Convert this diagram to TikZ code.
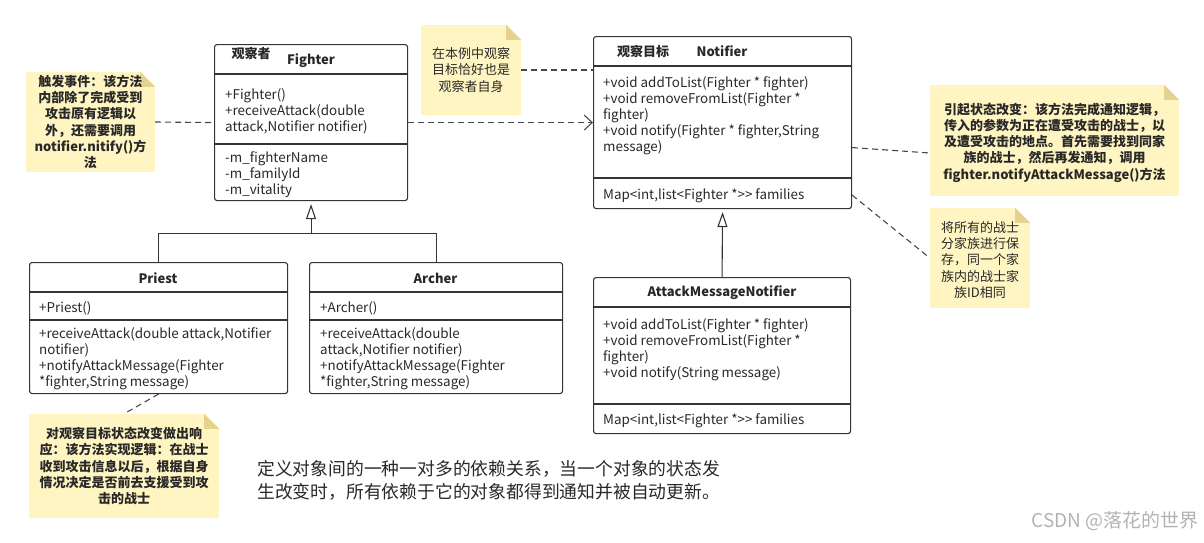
\documentclass[tikz,border=0pt]{standalone}
\usepackage{fontspec}
\usetikzlibrary{arrows.meta}
\newfontfamily\cjk{Noto Sans CJK SC}

\definecolor{mylinegray}{RGB}{50,52,56}
\definecolor{mytextgray}{RGB}{40,40,40}
\definecolor{mynotefill}{RGB}{255,245,194}
\definecolor{mynotefold}{RGB}{230,210,140}

\begin{document}
\begin{tikzpicture}[x=1pt,y=-1pt,
  classbox/.style={draw=mylinegray,line width=1.1pt,rounded corners=2.5pt,anchor=north west,inner sep=0pt},
  member/.style={anchor=north west,inner sep=0pt,align=left,text=mytextgray,font=\cjk\fontsize{13.4}{16.2}\selectfont},
  classtitle/.style={inner sep=0pt,text=mytextgray,font=\cjk\bfseries\fontsize{13}{16}\selectfont},
  notebox/.style={fill=mynotefill,inner sep=0pt},
  notetext/.style={inner sep=0pt,align=center,text=mytextgray,font=\cjk\fontsize{13}{16.3}\selectfont},
  link/.style={draw=mylinegray!90,line width=1.1pt,dash pattern=on 6pt off 4pt},
  inherit/.style={draw=mylinegray,line width=1.1pt,-{Triangle[open,length=15pt,width=10pt]}}]
\def\fold{15}
\useasboundingbox (0,0) rectangle (1204,542);

% classes
\node[classbox,minimum width=193pt,minimum height=156pt] (fighter) at (214,44) {};
\node[classbox,minimum width=258pt,minimum height=172pt] (notifier) at (593,36) {};
\node[classbox,minimum width=258pt,minimum height=131pt] (priest) at (29,262) {};
\node[classbox,minimum width=253pt,minimum height=131pt] (archer) at (309,262) {};
\node[classbox,minimum width=257pt,minimum height=156pt] (amn) at (593,277) {};

% compartments
\foreach \c/\a/\b in {fighter/30/100,notifier/30/142,priest/30/58,archer/30/58,amn/30/127}
  {
   \draw[mylinegray,line width=1.1pt] ([yshift=-\a pt]\c.north west) -- ([yshift=-\a pt]\c.north east);
   \draw[mylinegray,line width=1.1pt] ([yshift=-\b pt]\c.north west) -- ([yshift=-\b pt]\c.north east);
  }

% titles
\node[classtitle] (fighterrole) at (251,53) {观察者};
\node[classtitle] (fightername) at (311,61) {Fighter};
\node[classtitle] (notifierrole) at (643,51) {观察目标};
\node[classtitle] (notifiername) at (722,51) {Notifier};
\node[classtitle] (priestname) at (158,278) {Priest};
\node[classtitle] (archername) at (435.5,278) {Archer};
\node[classtitle] (amnname) at (722,293) {AttackMessageNotifier};

% members
\node[member] (fighterops) at (225,87.5) {\strut+Fighter()\\+receiveAttack(double\\attack,Notifier notifier)};
\node[member] (fighterattrs) at (225,150.5) {\strut-m\_fighterName\\-m\_familyId\\-m\_vitality};
\node[member] (notifierops) at (603,75.5) {\strut+void addToList(Fighter * fighter)\\+void removeFromList(Fighter *\\fighter)\\+void notify(Fighter * fighter,String\\message)};
\node[member] (notifierattrs) at (603,187.5) {\strut Map<int,list<Fighter *>> families};
\node[member] (priestctor) at (39,300.5) {\strut+Priest()};
\node[member] (priestops) at (39,326.5) {\strut+receiveAttack(double attack,Notifier\\notifier)\\+notifyAttackMessage(Fighter\\*fighter,String message)};
\node[member] (archerctor) at (320,300.5) {\strut+Archer()};
\node[member] (archerops) at (320,326.5) {\strut+receiveAttack(double\\attack,Notifier notifier)\\+notifyAttackMessage(Fighter\\*fighter,String message)};
\node[member] (amnops) at (603,317.5) {\strut+void addToList(Fighter * fighter)\\+void removeFromList(Fighter *\\fighter)\\+void notify(String message)};
\node[member] (amnattrs) at (603,412.5) {\strut Map<int,list<Fighter *>> families};

% notes
\node[notebox,minimum width=129pt,minimum height=100pt] (trigger) at (90.5,122) {};
\node[notebox,minimum width=100pt,minimum height=90pt] (selfnote) at (471,70) {};
\node[notebox,minimum width=249pt,minimum height=111pt] (change) at (1054.5,140.5) {};
\node[notebox,minimum width=100pt,minimum height=100pt] (family) at (980,258) {};
\node[notebox,minimum width=190pt,minimum height=104pt] (respond) at (124,466) {};
\foreach \n in {trigger,selfnote,change,family,respond}
  {
   \fill[white] (\n.north east) -- ++(-\fold,0) -- ++(\fold,\fold) -- cycle;
   \fill[mynotefold] (\n.north east) ++(-\fold,0) -- ++(0,\fold) -- ++(\fold,0) -- cycle;
  }
\node[notetext,font=\cjk\bfseries\fontsize{13}{16.2}\selectfont] (triggertext) at (trigger) {触发事件：该方法\\内部除了完成受到\\攻击原有逻辑以\\外，还需要调用\\notifier.nitify()方\\法};
\node[notetext] (selftext) at (selfnote) {在本例中观察\\目标恰好也是\\观察者自身};
\node[notetext,font=\cjk\bfseries\fontsize{13}{16.3}\selectfont] (changetext) at ([yshift=-2pt]change) {引起状态改变：该方法完成通知逻辑，\\传入的参数为正在遭受攻击的战士，以\\及遭受攻击的地点。首先需要找到同家\\族的战士，然后再发通知，调用\\fighter.notifyAttackMessage()方法};
\node[notetext] (familytext) at ([yshift=-2pt]family) {将所有的战士\\分家族进行保\\存，同一个家\\族内的战士家\\族ID相同};
\node[notetext,font=\cjk\bfseries\fontsize{13}{16.3}\selectfont] (respondtext) at (respond) {对观察目标状态改变做出响\\应：该方法实现逻辑：在战士\\收到攻击信息以后，根据自身\\情况决定是否前去支援受到攻\\击的战士};

% connectors
\draw[link] (trigger.east) -- (fighter.west);
\draw[link] (selfnote.east) -- (selfnote.east -| notifier.west);
\draw[link,-{Straight Barb[length=8pt,width=15pt]}] (fighter.east) -- (fighter.east -| notifier.west);
\draw[link] ([yshift=-25pt]notifier.east) -- ([yshift=-12.5pt]change.west);
\draw[link] ([yshift=14pt]notifier.south east) -- (family.west);
\draw[link] (priest.south) -- (respond.north);
\coordinate (bar) at ([yshift=-32pt]fighter.south);
\draw[mylinegray,line width=1.1pt] (priest.north) |- (bar) -| (archer.north);
\draw[inherit] (bar) -- ([yshift=-3pt]fighter.south);
\draw[inherit] (amn.north) -- ([yshift=-3pt]notifier.south);

% summary
\node[anchor=north west,inner sep=0pt,align=left,text=mytextgray,font=\cjk\fontsize{17.8}{23}\selectfont] (summary) at (257,460) {定义对象间的一种一对多的依赖关系，当一个对象的状态发\\生改变时，所有依赖于它的对象都得到通知并被自动更新。};
\node[anchor=east,inner sep=0pt,text=black!30,font=\cjk\fontsize{19}{22}\selectfont] (mark) at (1199,521) {CSDN @落花的世界};
\end{tikzpicture}
\end{document}
